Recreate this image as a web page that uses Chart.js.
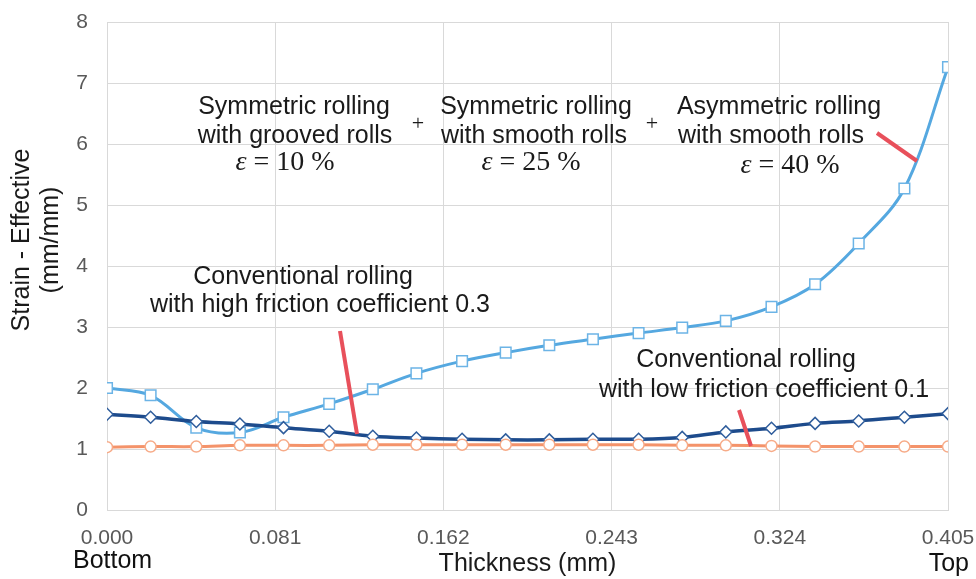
<!DOCTYPE html>
<html>
<head>
<meta charset="utf-8">
<script src="https://cdn.jsdelivr.net/npm/chart.js@4"></script>
<style>
  html, body { margin: 0; padding: 0; background: #fff; }
  #wrap { width: 976px; height: 579px; }
</style>
</head>
<body>
<div id="wrap"><canvas id="graph"></canvas></div>
<script>
/* ------------------------ données --------------------- */

const thickness = [0.000, 0.021, 0.043, 0.064, 0.085, 0.107, 0.128, 0.149, 0.171, 0.192,
                   0.213, 0.234, 0.256, 0.277, 0.298, 0.320, 0.341, 0.362, 0.384, 0.405];

const asymStrain = [2.00, 1.88, 1.35, 1.27, 1.52, 1.74, 1.98, 2.24, 2.44, 2.58,
                    2.70, 2.80, 2.90, 2.99, 3.10, 3.33, 3.70, 4.37, 5.27, 7.26];

const highFriction = [1.57, 1.52, 1.45, 1.41, 1.35, 1.29, 1.21, 1.18, 1.16, 1.15,
                      1.15, 1.16, 1.16, 1.19, 1.28, 1.34, 1.42, 1.46, 1.52, 1.58];

const lowFriction = [1.03, 1.04, 1.04, 1.06, 1.06, 1.06, 1.07, 1.07, 1.07, 1.07,
                     1.07, 1.07, 1.07, 1.06, 1.06, 1.05, 1.04, 1.04, 1.04, 1.04];

const xTicks = [0.000, 0.081, 0.162, 0.243, 0.324, 0.405];
const yTicks = [0, 1, 2, 3, 4, 5, 6, 7, 8];

/* ------------------------ textes et flèches --------------------- */

const sans = '"Liberation Sans", Arial, sans-serif';
const serif = '"Liberation Serif", "Times New Roman", serif';

function pts(xs, ys) {
    const out = [];
    for (let i = 0; i < xs.length; i++) out.push({x: xs[i], y: ys[i]});
    return out;
}

function drawEps(ctx, cx, cy, val) {
    // ε = 10 %
    const e = 'ε';
    const rest = ' = ' + val + ' %';
    ctx.font = '28px ' + serif;
    const wRest = ctx.measureText(rest).width;
    ctx.font = 'italic 28px ' + serif;
    const wE = ctx.measureText(e).width;
    const x0 = cx - (wE + wRest) / 2;
    ctx.textAlign = 'left';
    ctx.fillText(e, x0, cy);
    ctx.font = '28px ' + serif;
    ctx.fillText(rest, x0 + wE, cy);
}

const annotations = {
    id: 'annotations',
    afterDatasetsDraw(chart) {
        const ctx = chart.ctx;
        ctx.save();
        ctx.fillStyle = '#1a1a1a';
        ctx.textBaseline = 'middle';
        ctx.textAlign = 'center';
        ctx.font = '25px ' + sans;

        ctx.fillText('Symmetric rolling', 294, 107);
        ctx.fillText('with grooved rolls', 295, 136);
        ctx.fillText('Symmetric rolling', 536, 107);
        ctx.fillText('with smooth rolls', 534, 136);
        ctx.fillText('Asymmetric rolling', 779, 107);
        ctx.fillText('with smooth rolls', 771, 136);

        ctx.fillText('Conventional rolling', 303, 277);
        ctx.fillText('with high friction coefficient 0.3', 320, 305);
        ctx.fillText('Conventional rolling', 746, 360);
        ctx.fillText('with low friction coefficient 0.1', 764, 390);

        drawEps(ctx, 285, 163, '10');
        drawEps(ctx, 531, 163, '25');
        drawEps(ctx, 790, 166, '40');

        ctx.textAlign = 'center';
        ctx.font = '22px ' + serif;
        ctx.fillText('+', 418, 124);
        ctx.fillText('+', 652, 124);

        // traits rouges
        ctx.strokeStyle = '#e8505b';
        ctx.lineWidth = 4;
        ctx.lineCap = 'butt';
        const lines = [[877, 133, 917, 161], [340, 331, 357, 434], [739, 410, 751, 446]];
        for (const l of lines) {
            ctx.beginPath();
            ctx.moveTo(l[0], l[1]);
            ctx.lineTo(l[2], l[3]);
            ctx.stroke();
        }

        // Bottom / Top
        ctx.fillStyle = '#111';
        ctx.font = '25px ' + sans;
        ctx.textAlign = 'left';
        ctx.fillText('Bottom', 73, 561);
        ctx.textAlign = 'right';
        ctx.fillText('Top', 969, 564);

        // titre axe y sur deux lignes
        ctx.translate(22, 240);
        ctx.rotate(-Math.PI / 2);
        ctx.textAlign = 'center';
        ctx.fillStyle = '#1a1a1a';
        ctx.fillText('Strain - Effective', 0, 0);
        ctx.fillText('(mm/mm)', 0, 29);
        ctx.restore();
    }
};

/* ------------------------ graphique --------------------- */

const ctx = document.getElementById('graph').getContext('2d');

const config = {
    type: 'line',
    data: {
        datasets: [
            {
                label: 'Asymmetric rolling',
                data: pts(thickness, asymStrain),
                borderColor: '#55a8e0',
                pointBorderColor: '#6cb4e6',
                backgroundColor: '#ffffff',
                borderWidth: 3,
                pointStyle: 'rect',
                pointRadius: 7.5,
                pointBorderWidth: 1.5,
                tension: 0.35,
                order: 3
            },
            {
                label: 'High friction 0.3',
                data: pts(thickness, highFriction),
                borderColor: '#1d4b8c',
                pointBorderColor: '#2f5d9c',
                backgroundColor: '#ffffff',
                borderWidth: 3.5,
                pointStyle: 'rectRot',
                pointRadius: 6,
                pointBorderWidth: 1.5,
                tension: 0.35,
                order: 2
            },
            {
                label: 'Low friction 0.1',
                data: pts(thickness, lowFriction),
                borderColor: '#f4936a',
                pointBorderColor: '#f7ab88',
                backgroundColor: '#ffffff',
                borderWidth: 3,
                pointStyle: 'circle',
                pointRadius: 5.5,
                pointBorderWidth: 1.5,
                tension: 0.35,
                order: 1
            }
        ]
    },
    options: {
        responsive: false,
        animation: false,
        layout: { padding: { top: 22, right: 28, left: 0, bottom: 0 } },
        plugins: {
            legend: { display: false },
            tooltip: { enabled: false }
        },
        scales: {
            x: {
                type: 'linear',
                min: 0,
                max: 0.405,
                afterBuildTicks: (s) => { s.ticks = xTicks.map(v => ({value: v})); },
                afterFit: (s) => { s.height = 69; s.paddingLeft = 0; s.paddingRight = 0; },
                grid: { color: '#d9d9d9', drawTicks: false },
                border: { color: '#d9d9d9' },
                ticks: {
                    padding: 16,
                    color: '#595959',
                    font: { family: sans, size: 21 },
                    callback: (v) => v.toFixed(3)
                },
                title: {
                    display: true,
                    text: 'Thickness (mm)',
                    color: '#1a1a1a',
                    font: { family: sans, size: 25 },
                    padding: { top: 5, bottom: 0 }
                }
            },
            y: {
                min: 0,
                max: 8,
                afterBuildTicks: (s) => { s.ticks = yTicks.map(v => ({value: v})); },
                afterFit: (s) => { s.width = 107; s.paddingTop = 0; s.paddingBottom = 0; },
                grid: { color: '#d9d9d9', drawTicks: false },
                border: { color: '#d9d9d9' },
                ticks: {
                    padding: 19,
                    color: '#595959',
                    font: { family: sans, size: 21 }
                }
            }
        }
    },
    plugins: [annotations]
};

const canvas = document.getElementById('graph');
canvas.width = 976;
canvas.height = 579;
const myChart = new Chart(ctx, config);
</script>
</body>
</html>
